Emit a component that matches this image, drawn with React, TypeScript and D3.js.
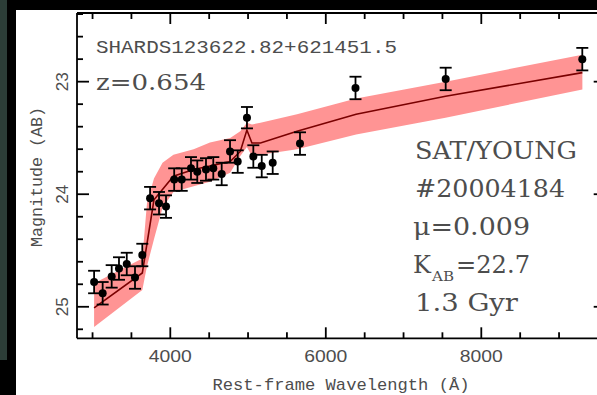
import React from "react";
import * as d3 from "d3";

// Observed photometry
const obsWave = [3020, 3130, 3246, 3340, 3440, 3546, 3640, 3740, 3855, 3945, 4050, 4147, 4266, 4347, 4459, 4553, 4661, 4768, 4867, 4986, 5068, 5176, 5317, 5668, 6382, 7542, 9299];
const obsMag = [24.78, 24.88, 24.73, 24.66, 24.62, 24.74, 24.54, 24.035, 24.08, 24.11, 23.87, 23.87, 23.77, 23.8, 23.78, 23.77, 23.82, 23.62, 23.71, 23.32, 23.665, 23.75, 23.72, 23.55, 23.056, 22.976, 22.8];
const obsErr = [0.1, 0.1, 0.1, 0.1, 0.1, 0.1, 0.1, 0.1, 0.1, 0.1, 0.1, 0.1, 0.1, 0.1, 0.1, 0.1, 0.1, 0.1, 0.1, 0.095, 0.1, 0.1, 0.1, 0.1, 0.1, 0.1, 0.1];

// Best-fit model
const modelWave = [3020, 3640, 3790, 4040, 4300, 4510, 4770, 4900, 4985, 5050, 5160, 5630, 6390, 7540, 9300];
const modelMag = [25.01, 24.7, 24.05, 23.84, 23.78, 23.75, 23.71, 23.62, 23.43, 23.545, 23.545, 23.44, 23.29, 23.13, 22.92];

// Model uncertainty band
const bandWave = [3020, 3640, 3700, 3790, 3900, 4040, 4300, 4510, 4770, 4900, 4985, 5050, 5160, 5630, 6390, 7540, 9300];
const bandBright = [24.79, 24.57, 24.08, 23.86, 23.72, 23.65, 23.6, 23.54, 23.5, 23.44, 23.365, 23.38, 23.365, 23.29, 23.15, 23.0, 22.76];
const bandFaint = [25.18, 24.85, 24.64, 24.4, 24.12, 23.98, 23.93, 23.89, 23.81, 23.66, 23.58, 23.66, 23.65, 23.6, 23.47, 23.32, 23.07];

const xMajor = [4000, 6000, 8000];
const xMinor = [3000, 3500, 4500, 5000, 5500, 6500, 7000, 7500, 8500, 9000, 9500];
const yMajor = [23, 24, 25];
const yMinor = [22.4, 22.6, 22.8, 23.2, 23.4, 23.6, 23.8, 24.2, 24.4, 24.6, 24.8, 25.2];

const W = 597;
const H = 395;

export default function App() {
  const x = d3.scaleLinear().domain([2800, 9600]).range([77, 605.7]);
  const y = d3.scaleLinear().domain([22.39, 25.28]).range([13, 338.3]);
  const L = 77, R = 605.7, T = 13, B = 338.3;

  const area = d3
    .area<number>()
    .x((_, i) => x(bandWave[i]))
    .y0((_, i) => y(bandFaint[i]))
    .y1((_, i) => y(bandBright[i]));
  const line = d3
    .line<number>()
    .x((_, i) => x(modelWave[i]))
    .y((d) => y(d));

  const grey = "#4d4d4d";
  const serif = "'DejaVu Serif', serif";
  const mono = "'Liberation Mono', monospace";
  const sans = "'Liberation Sans', Arial, sans-serif";

  return (
    <svg width={W} height={H} style={{ position: "fixed", left: 0, top: 0, display: "block" }}>
      <rect x={0} y={0} width={W} height={H} fill="#000" />
      <rect x={0} y={0} width={7} height={360} fill="#2c3d37" />
      <rect x={16} y={10} width={W - 16} height={H - 10} fill="#fff" />

      <path d={area(bandWave) || ""} fill="#ff9494" />
      <path d={line(modelMag) || ""} fill="none" stroke="#7a0000" strokeWidth={1.6} />

      {obsWave.map((w, i) => {
        const cx = x(w);
        const cy = y(obsMag[i]);
        const y0 = y(obsMag[i] - obsErr[i]);
        const y1 = y(obsMag[i] + obsErr[i]);
        return (
          <g key={i} stroke="#000" strokeWidth={1.8}>
            <line x1={cx} x2={cx} y1={y0} y2={y1} />
            <line x1={cx - 6} x2={cx + 6} y1={y0} y2={y0} />
            <line x1={cx - 6} x2={cx + 6} y1={y1} y2={y1} />
            <circle cx={cx} cy={cy} r={4} fill="#000" stroke="none" />
          </g>
        );
      })}

      {/* frame */}
      <g stroke="#000" strokeWidth={1.8} fill="none">
        <line x1={L} x2={R} y1={B} y2={B} />
        <line x1={L} x2={R} y1={T} y2={T} />
        <line x1={L} x2={L} y1={T} y2={B} />
        <line x1={R} x2={R} y1={T} y2={B} />
        {xMajor.map((v) => (
          <g key={"xM" + v}>
            <line x1={x(v)} x2={x(v)} y1={B} y2={B - 11} />
            <line x1={x(v)} x2={x(v)} y1={T} y2={T + 11} />
          </g>
        ))}
        {xMinor.map((v) => (
          <g key={"xm" + v}>
            <line x1={x(v)} x2={x(v)} y1={B} y2={B - 6} />
            <line x1={x(v)} x2={x(v)} y1={T} y2={T + 6} />
          </g>
        ))}
        {yMajor.map((v) => (
          <g key={"yM" + v}>
            <line x1={L} x2={L + 12} y1={y(v)} y2={y(v)} />
            <line x1={R} x2={R - 12} y1={y(v)} y2={y(v)} />
          </g>
        ))}
        {yMinor.map((v) => (
          <g key={"ym" + v}>
            <line x1={L} x2={L + 6} y1={y(v)} y2={y(v)} />
            <line x1={R} x2={R - 6} y1={y(v)} y2={y(v)} />
          </g>
        ))}
      </g>

      {/* tick labels */}
      {xMajor.map((v) => (
        <text key={"xl" + v} x={x(v)} y={362} textAnchor="middle" fontFamily={sans} fontSize={16} fill={grey} textLength={43} lengthAdjust="spacingAndGlyphs">
          {v}
        </text>
      ))}
      {yMajor.map((v) => (
        <text key={"yl" + v} transform={`translate(68,${y(v)}) rotate(-90)`} textAnchor="middle" fontFamily={sans} fontSize={16} fill={grey} textLength={19} lengthAdjust="spacingAndGlyphs">
          {v}
        </text>
      ))}

      {/* axis titles */}
      <text x={341} y={390} textAnchor="middle" fontFamily={mono} fontSize={17} fill={grey} textLength={257} lengthAdjust="spacingAndGlyphs">
        Rest-frame Wavelength (Å)
      </text>
      <text transform="translate(42,177) rotate(-90)" textAnchor="middle" fontFamily={mono} fontSize={16} fill={grey} textLength={140} lengthAdjust="spacingAndGlyphs">
        Magnitude (AB)
      </text>

      {/* annotations */}
      <text x={96} y={53} fontFamily={mono} fontSize={19} fill={grey} textLength={301} lengthAdjust="spacingAndGlyphs">
        SHARDS123622.82+621451.5
      </text>
      <text x={96} y={90} fontFamily={serif} fontSize={23} fill={grey} textLength={110} lengthAdjust="spacingAndGlyphs">
        z=0.654
      </text>
      <text x={415} y={159} fontFamily={serif} fontSize={24} fill={grey} textLength={162} lengthAdjust="spacingAndGlyphs">
        SAT/YOUNG
      </text>
      <text x={415} y={197} fontFamily={serif} fontSize={24} fill={grey} textLength={150} lengthAdjust="spacingAndGlyphs">
        #20004184
      </text>
      <text x={413} y={235} fontFamily={serif} fontSize={24} fill={grey} textLength={117} lengthAdjust="spacingAndGlyphs">
        μ=0.009
      </text>
      <text x={413} y={273} fontFamily={serif} fontSize={24} fill={grey}>
        K
      </text>
      <text x={432} y={281} fontFamily={serif} fontSize={12} fill={grey} textLength={22} lengthAdjust="spacingAndGlyphs">
        AB
      </text>
      <text x={456} y={273} fontFamily={serif} fontSize={24} fill={grey} textLength={74} lengthAdjust="spacingAndGlyphs">
        =22.7
      </text>
      <text x={415} y={311} fontFamily={serif} fontSize={24} fill={grey} textLength={103} lengthAdjust="spacingAndGlyphs">
        1.3 Gyr
      </text>
    </svg>
  );
}
